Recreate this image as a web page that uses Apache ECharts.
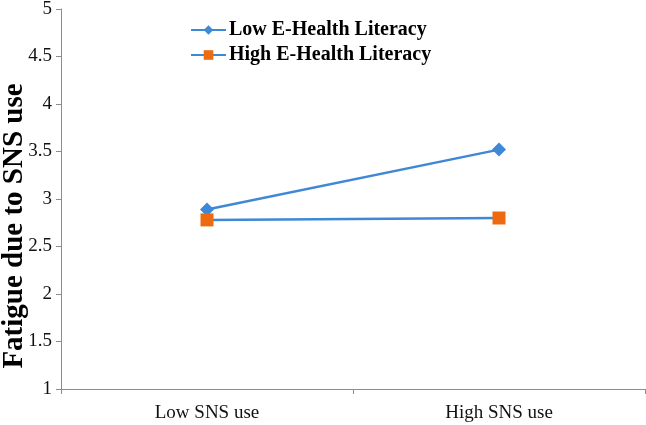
<!DOCTYPE html>
<html>
<head>
<meta charset="utf-8">
<script src="https://cdn.jsdelivr.net/npm/echarts@6/dist/echarts.min.js"></script>
<style>html,body{margin:0;padding:0;background:#fff}#c{width:646px;height:425px}</style>
</head>
<body>
<div id="c"></div>
<script>
var categories = ["Low SNS use", "High SNS use"];
var seriesNames = ["Low E-Health Literacy", "High E-Health Literacy"];
var lowLiteracy = [2.89, 3.52];
var highLiteracy = [2.78, 2.80];
var yTicks = [1, 1.5, 2, 2.5, 3, 3.5, 4, 4.5, 5];
var yAxisTitle = 'Fatigue due to SNS use';

var font = "'Liberation Serif','Times New Roman',serif";
var chart = echarts.init(document.getElementById('c'), null, {renderer: 'canvas'});
chart.setOption({
  animation: false,
  backgroundColor: '#fff',
  grid: {left: 61, right: 1, top: 9, bottom: 36, containLabel: false, outerBoundsMode: 'none'},
  legend: {
    orient: 'vertical',
    left: 185, top: 15,
    itemWidth: 35, itemHeight: 12, itemGap: 5,
    data: seriesNames,
    textStyle: {fontFamily: font, fontWeight: 'bold', fontSize: 20, color: '#000', padding: [0,0,0,-2]}
  },
  graphic: [{
    type: 'text',
    x: 15, y: 226,
    rotation: Math.PI / 2,
    style: {
      text: yAxisTitle,
      fontFamily: font, fontWeight: 'bold', fontSize: 29, fill: '#000',
      textAlign: 'center', textVerticalAlign: 'middle'
    }
  }],
  xAxis: {
    type: 'category',
    data: categories,
    boundaryGap: true,
    axisLine: {lineStyle: {color: '#8c8c8c', width: 1}},
    axisTick: {show: true, alignWithLabel: false, length: 5, lineStyle: {color: '#8c8c8c'}},
    axisLabel: {fontFamily: font, fontSize: 19, color: '#111', margin: 15}
  },
  yAxis: {
    type: 'value',
    min: yTicks[0], max: yTicks[yTicks.length - 1], interval: 0.5,
    axisLine: {show: true, lineStyle: {color: '#8c8c8c', width: 1}},
    axisTick: {show: true, length: 5, lineStyle: {color: '#8c8c8c'}},
    splitLine: {show: false},
    axisLabel: {fontFamily: font, fontSize: 19, color: '#111', margin: 9}
  },
  series: [
    {
      name: seriesNames[0], type: 'line', data: lowLiteracy,
      symbol: 'diamond', symbolSize: 14,
      lineStyle: {color: '#3F88D6', width: 2.5},
      itemStyle: {color: '#3F88D6'}
    },
    {
      name: seriesNames[1], type: 'line', data: highLiteracy,
      symbol: 'rect', symbolSize: 13,
      lineStyle: {color: '#3F88D6', width: 2.5},
      itemStyle: {color: '#EE6A10'}
    }
  ]
});
</script>
</body>
</html>
